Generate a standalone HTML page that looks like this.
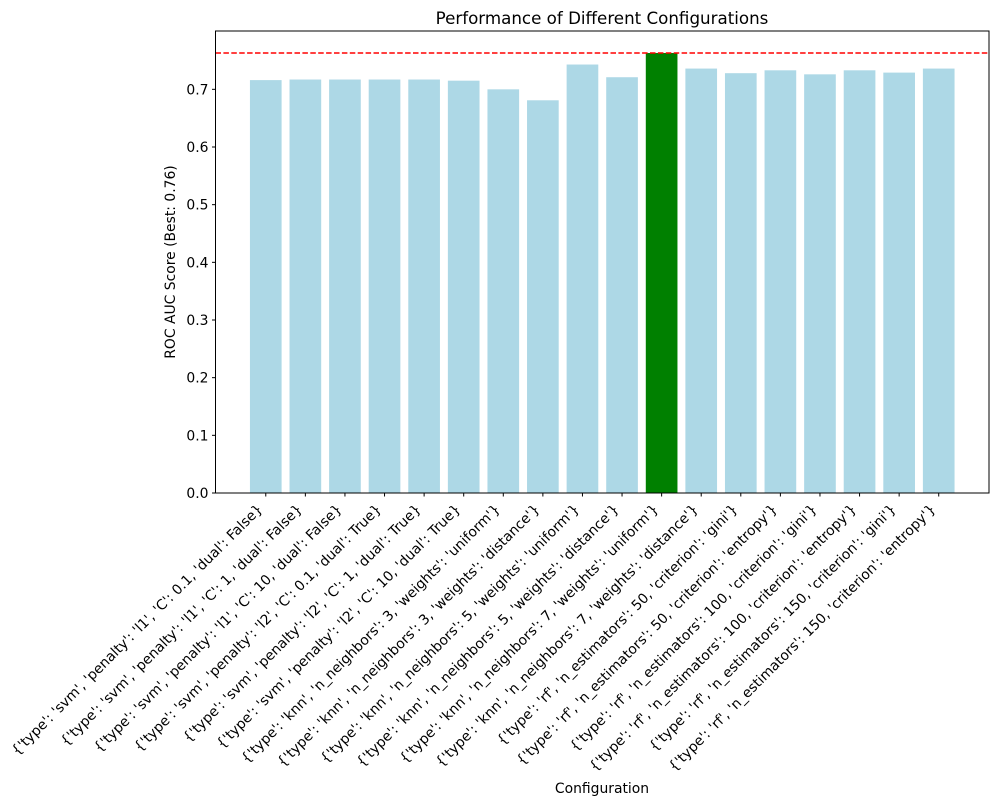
<!DOCTYPE html>
<html><head><meta charset="utf-8"><style>
body{margin:0;background:#fff}
svg{display:block;font-family:"DejaVu Sans","Liberation Sans",sans-serif}
</style></head><body>
<svg id="chart" width="1000" height="805" viewBox="0 0 1000 805">
<text x="602" y="24" font-size="16.7" text-anchor="middle" fill="#000">Performance of Different Configurations</text>
<text x="602" y="793" font-size="13.9" text-anchor="middle" fill="#000">Configuration</text>
<text transform="translate(175,262) rotate(-90)" font-size="13.9" text-anchor="middle" fill="#000">ROC AUC Score (Best: 0.76)</text>
<g id="bars"></g><g id="yticks"></g><g id="xticks"></g>
</svg>
<script>
const categories = [
"{'type': 'svm', 'penalty': 'l1', 'C': 0.1, 'dual': False}",
"{'type': 'svm', 'penalty': 'l1', 'C': 1, 'dual': False}",
"{'type': 'svm', 'penalty': 'l1', 'C': 10, 'dual': False}",
"{'type': 'svm', 'penalty': 'l2', 'C': 0.1, 'dual': True}",
"{'type': 'svm', 'penalty': 'l2', 'C': 1, 'dual': True}",
"{'type': 'svm', 'penalty': 'l2', 'C': 10, 'dual': True}",
"{'type': 'knn', 'n_neighbors': 3, 'weights': 'uniform'}",
"{'type': 'knn', 'n_neighbors': 3, 'weights': 'distance'}",
"{'type': 'knn', 'n_neighbors': 5, 'weights': 'uniform'}",
"{'type': 'knn', 'n_neighbors': 5, 'weights': 'distance'}",
"{'type': 'knn', 'n_neighbors': 7, 'weights': 'uniform'}",
"{'type': 'knn', 'n_neighbors': 7, 'weights': 'distance'}",
"{'type': 'rf', 'n_estimators': 50, 'criterion': 'gini'}",
"{'type': 'rf', 'n_estimators': 50, 'criterion': 'entropy'}",
"{'type': 'rf', 'n_estimators': 100, 'criterion': 'gini'}",
"{'type': 'rf', 'n_estimators': 100, 'criterion': 'entropy'}",
"{'type': 'rf', 'n_estimators': 150, 'criterion': 'gini'}",
"{'type': 'rf', 'n_estimators': 150, 'criterion': 'entropy'}"];
const scores = [0.716,0.717,0.717,0.717,0.717,0.715,0.700,0.681,0.743,0.721,0.763,0.736,0.728,0.733,0.726,0.733,0.729,0.736];
const yTicks = [0.0,0.1,0.2,0.3,0.4,0.5,0.6,0.7];
const yTickLabels = ["0.0","0.1","0.2","0.3","0.4","0.5","0.6","0.7"];

const NS="http://www.w3.org/2000/svg";
const L=215.5,R=989,T=31,B=493;
const best=Math.max(...scores);
const yMax=best*1.05;
const xMin=-1.27,xMax=categories.length-1+1.27;
const xs=i=>L+(i-xMin)/(xMax-xMin)*(R-L);
const ys=v=>B-v/yMax*(B-T);
const unit=(R-L)/(xMax-xMin);
function mk(tag,attrs,parent){const e=document.createElementNS(NS,tag);for(const k in attrs)e.setAttribute(k,attrs[k]);parent.appendChild(e);return e;}
const svg=document.getElementById('chart');
const gb=document.getElementById('bars');
scores.forEach((v,i)=>{
  const r=mk('rect',{x:xs(i)-unit*0.4,y:ys(v),width:unit*0.8,height:B-ys(v),fill:v===best?'#008000':'#add8e6'},gb);
  
  
});
const bl=mk('line',{x1:L,x2:R,y1:ys(best),y2:ys(best),stroke:'#ff0000','stroke-width':1.5,'stroke-dasharray':'5.5,2.4'},svg);


const frame=mk('rect',{x:L,y:T,width:R-L,height:B-T,fill:'none',stroke:'#000','stroke-width':1},svg);


const gy=document.getElementById('yticks');
yTicks.forEach((v,i)=>{
  mk('line',{x1:L-3.5,x2:L,y1:ys(v),y2:ys(v),stroke:'#000'},gy);
  const t=mk('text',{x:L-7,y:ys(v)+5,'font-size':13.9,'text-anchor':'end'},gy);
  t.textContent=yTickLabels[i];
  
  
});
const gx=document.getElementById('xticks');
categories.forEach((c,i)=>{
  const x=xs(i);
  mk('line',{x1:x,x2:x,y1:B,y2:B+3.5,stroke:'#000'},gx);
  const t=mk('text',{transform:`translate(${x-2.5},${B+17}) rotate(-45)`,'font-size':13.9,'text-anchor':'end'},gx);
  t.textContent=c;
  
  
});
</script>
</body></html>
